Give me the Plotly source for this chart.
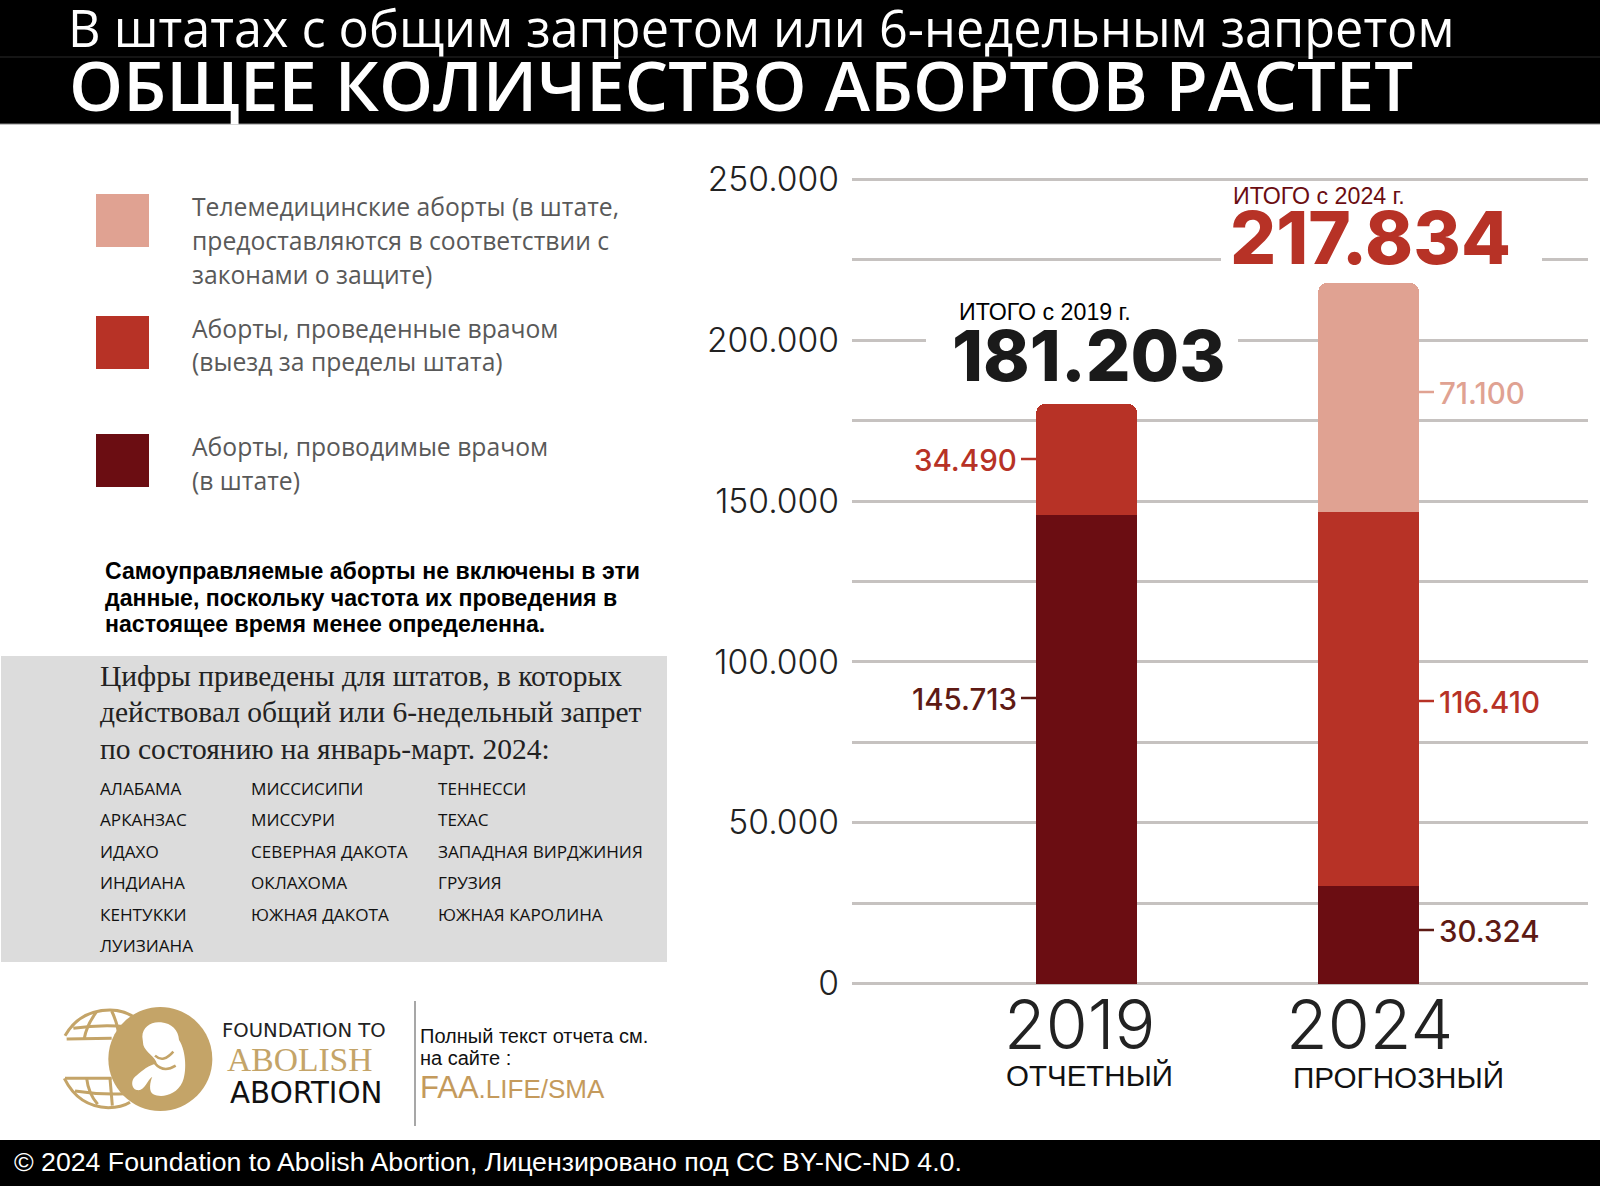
import plotly.graph_objects as go

W = 1600
H = 1189

years = ["2019", "2024"]
year_notes = ["ОТЧЕТНЫЙ", "ПРОГНОЗНЫЙ"]
in_state = [145713, 30324]
out_of_state = [34490, 116410]
telehealth = [0, 71100]
tick_vals = [0, 50000, 100000, 150000, 200000, 250000]
tick_labels = ["0", "50.000", "100.000", "150.000", "200.000", "250.000"]

legend_lines = [
    ["Телемедицинские аборты (в штате,", "предоставляются в соответствии с", "законами о защите)"],
    ["Аборты, проведенные врачом", "(выезд за пределы штата)"],
    ["Аборты, проводимые врачом", "(в штате)"],
]
note_lines = [
    "Самоуправляемые аборты не включены в эти",
    "данные, поскольку частота их проведения в",
    "настоящее время менее определенна.",
]
box_lines = [
    "Цифры приведены для штатов, в которых",
    "действовал общий или 6-недельный запрет",
    "по состоянию на январь-март. 2024:",
]
state_cols = [
    ["АЛАБАМА", "АРКАНЗАС", "ИДАХО", "ИНДИАНА", "КЕНТУККИ", "ЛУИЗИАНА"],
    ["МИССИСИПИ", "МИССУРИ", "СЕВЕРНАЯ ДАКОТА", "ОКЛАХОМА", "ЮЖНАЯ ДАКОТА"],
    ["ТЕННЕССИ", "ТЕХАС", "ЗАПАДНАЯ ВИРДЖИНИЯ", "ГРУЗИЯ", "ЮЖНАЯ КАРОЛИНА"],
]

LIGHT = "#E0A292"
RED = "#B73226"
DARK = "#6B0D12"
GOLD = "#C4A468"
GRID = "#C6C2C0"
NUM_FONT = "Inter"


def fx(x):
    return x / W


def fy(y):
    return 1 - y / H


def text(x, y, s, size, color="#000000", family="Liberation Sans", anchor="left", weight=None):
    # one line of text placed by its page position in pixels
    fig.add_annotation(
        x=fx(x), y=fy(y), xref="paper", yref="paper", text=s, showarrow=False,
        xanchor=anchor, yanchor="middle", borderpad=0,
        font=dict(family=family, size=size, color=color, weight=weight),
    )


def rect(x0, y0, x1, y1, color):
    fig.add_shape(type="rect", xref="paper", yref="paper", x0=fx(x0), x1=fx(x1), y0=fy(y0), y1=fy(y1),
                  fillcolor=color, line_width=0, layer="above")


def line(x0, y0, x1, y1, color, width=2.5):
    fig.add_shape(type="line", xref="paper", yref="paper", x0=fx(x0), x1=fx(x1), y0=fy(y0), y1=fy(y1),
                  line=dict(color=color, width=width), layer="above")


def logo_path(cmds, **kw):
    # cmds use coordinates measured on the logo at 3x, offset to the page here
    parts = []
    for c in cmds:
        nums = c[1:]
        pts = []
        for i in range(0, len(nums), 2):
            pts.append("%.5f,%.5f" % (fx(55 + nums[i] / 3), fy(995 + nums[i + 1] / 3)))
        parts.append(c[0] + " ".join(pts))
    fig.add_shape(type="path", xref="paper", yref="paper", path=" ".join(parts), layer="above", **kw)


fig = go.Figure()
fig.add_trace(go.Bar(x=years, y=in_state, name="Аборты, проводимые врачом (в штате)", marker_color=DARK))
fig.add_trace(go.Bar(x=years, y=out_of_state, name="Аборты, проведенные врачом (выезд за пределы штата)", marker_color=RED))
fig.add_trace(go.Bar(x=years, y=telehealth, name="Телемедицинские аборты", marker_color=LIGHT))
fig.update_traces(marker_line_width=0, width=0.358, showlegend=False)

fig.update_layout(
    width=W, height=H, margin=dict(l=0, r=0, t=0, b=0), autosize=False,
    paper_bgcolor="white", plot_bgcolor="white",
    barmode="stack", barcornerradius=9, showlegend=False,
    xaxis=dict(domain=[852 / W, 1588 / W], type="category", range=[-0.832, 1.778], automargin=False,
               showticklabels=False, showgrid=False, zeroline=False, showline=False, ticks=""),
    # the range runs a little past both ends so the first and last gridlines are kept
    yaxis=dict(domain=[fy(993.15), fy(169.85)], range=[-3000, 253000], tickmode="array", automargin=False,
               tickvals=tick_vals, ticktext=tick_labels, ticks="", ticklabelstandoff=12,
               tickfont=dict(family=NUM_FONT, size=33.6, color="#222222", weight=300),
               showgrid=True, gridcolor=GRID, gridwidth=2.5, zeroline=False, showline=False,
               minor=dict(tick0=0, dtick=25000, showgrid=True, gridcolor=GRID, gridwidth=2.5, ticks="")),
)

# header and footer bands
rect(0, 0, W, 124, "#000000")
line(0, 57, W, 57, "#2A2A2A", 1)
line(0, 124, W, 124, "#8A8A8A", 1)
rect(0, 1140, W, 1186, "#000000")
text(67, 27, "В штатах с общим запретом или 6-недельным запретом", 50.4, "#FFFFFF", "Open Sans")
text(67.5, 84, "ОБЩЕЕ КОЛИЧЕСТВО АБОРТОВ РАСТЕТ", 68.8, "#FFFFFF", "Open Sans", weight=600)
text(13, 1162, "© 2024 Foundation to Abolish Abortion, Лицензировано под CC BY-NC-ND 4.0.", 26.7, "#FFFFFF")

# legend
legend_colors = [LIGHT, RED, DARK]
legend_tops = [194, 316, 434]
legend_first = [207, 328, 446.5]
for lines, color, top, first in zip(legend_lines, legend_colors, legend_tops, legend_first):
    rect(96, top, 149, top + 53, color)
    for i, s in enumerate(lines):
        text(191, first + i * 33.7, s, 24.7, "#595959", "Open Sans")

for i, s in enumerate(note_lines):
    text(104, 571 + i * 26.7, s, 23.1, "#000000", weight=700)

# grey box with the state list
rect(1, 656, 667, 962, "#DCDCDC")
for i, s in enumerate(box_lines):
    text(99, 676 + i * 36.5, s, 29.5, "#222222", "Liberation Serif")
col_x = [99, 250, 437]
for x, col in zip(col_x, state_cols):
    for i, s in enumerate(col):
        text(x, 788.5 + i * 31.4, s, 17.15, "#111111", "Open Sans")

# logo: globe lines, disc and the white figure inside it
for cmds in [
    [("M", 30, 122), ("Q", 75, 45, 165, 45), ("Q", 210, 45, 245, 72)],
    [("M", 28, 250), ("Q", 70, 335, 160, 338), ("Q", 200, 338, 225, 322)],
    [("M", 55, 100), ("Q", 135, 88, 215, 95)],
    [("M", 35, 132), ("L", 170, 130)],
    [("M", 30, 250), ("L", 170, 250)],
    [("M", 60, 288), ("Q", 135, 300, 210, 296)],
    [("M", 125, 50), ("Q", 95, 90, 88, 130)],
    [("M", 170, 48), ("Q", 190, 90, 192, 130)],
    [("M", 95, 250), ("Q", 100, 295, 128, 328)],
    [("M", 165, 250), ("L", 172, 332)],
]:
    logo_path(cmds, line=dict(color=GOLD, width=3))
logo_path([("M", 316, 36), ("C", 402, 36, 472, 106, 472, 192), ("C", 472, 278, 402, 348, 316, 348),
           ("C", 230, 348, 160, 278, 160, 192), ("C", 160, 106, 230, 36, 316, 36), ("Z",)],
          fillcolor=GOLD, line_width=0)
logo_path([("M", 262, 125), ("C", 262, 95, 290, 78, 318, 82), ("C", 350, 85, 370, 105, 372, 135),
           ("C", 395, 170, 395, 235, 382, 262), ("C", 365, 300, 320, 310, 295, 298),
           ("C", 280, 290, 285, 260, 292, 245), ("C", 275, 255, 270, 290, 245, 285),
           ("C", 228, 280, 228, 255, 240, 245), ("C", 255, 235, 270, 215, 305, 205),
           ("C", 305, 190, 270, 170, 265, 150), ("Z",)],
          fillcolor="#FFFFFF", line_width=0)
logo_path([("M", 300, 182), ("Q", 325, 205, 355, 170)], line=dict(color=GOLD, width=2.5))
logo_path([("M", 300, 205), ("Q", 325, 235, 362, 212)], line=dict(color=GOLD, width=2.5))
text(221, 1030, "FOUNDATION TO", 19.6, "#222222", "DejaVu Sans")
text(226, 1059, "ABOLISH", 33.6, GOLD, "Liberation Serif")
text(229, 1093, "ABORTION", 29.3, "#111111", "DejaVu Sans")

line(415, 1001, 415, 1126, "#8A8A8A", 1.5)
text(419, 1036, "Полный текст отчета см.", 20, "#111111")
text(419, 1058, "на сайте :", 20, "#111111")
text(419, 1087, '<span style="font-size:31px">FAA</span>.LIFE/SMA', 26, "#C49A5C")

# totals; the white strips break the gridlines behind the big numbers
rect(926, 325, 1238, 385, "#FFFFFF")
rect(1221, 248, 1542, 270, "#FFFFFF")
text(958, 312, "ИТОГО с 2019 г.", 23.2, "#000000")
text(1089, 356, "181.203", 70.4, "#1A1A1A", NUM_FONT, "center", 800)
text(1232, 196, "ИТОГО с 2024 г.", 23.2, DARK)
text(1370, 237, "217.834", 72.5, RED, NUM_FONT, "center", 800)

# segment values with their little leader ticks
seg_left = [(459, out_of_state[0], RED), (698, in_state[0], "#5E1A14")]
seg_right = [(392, telehealth[1], LIGHT), (701, out_of_state[1], RED), (930, in_state[1], "#5E1A14")]
for y, v, color in seg_left:
    line(1021, y, 1036, y, color)
    text(1018, y + 1, f"{v:,}".replace(",", "."), 29.5, color, NUM_FONT, "right", 500)
for y, v, color in seg_right:
    line(1419, y, 1434, y, color)
    text(1438, y + 1, f"{v:,}".replace(",", "."), 29.5, color, NUM_FONT, "left", 500)

# year labels under the bars
text(1079, 1024, years[0], 68, "#222222", NUM_FONT, "center", 300)
text(1369.5, 1024, years[1], 68, "#222222", NUM_FONT, "center", 300)
text(1005, 1075, year_notes[0], 29.5, "#111111")
text(1292, 1077, year_notes[1], 29.7, "#111111")

fig.write_html("out.html", config=dict(displayModeBar=False),
               post_script="document.body.style.margin='0';document.body.style.overflow='hidden';")
